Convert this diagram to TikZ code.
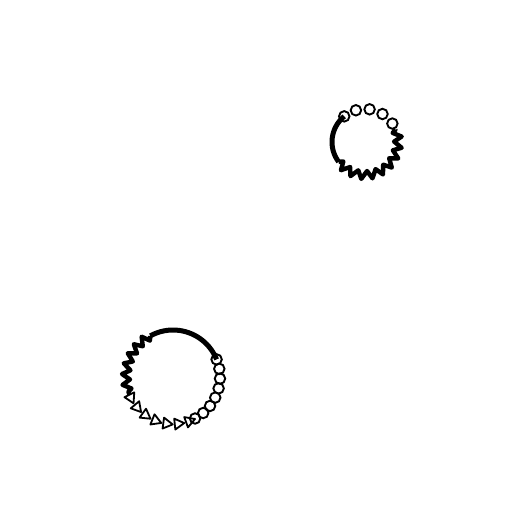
\documentclass[tikz,border=0pt]{standalone}
\usetikzlibrary{decorations.pathmorphing,shapes.geometric}
\begin{document}
\begin{tikzpicture}[x=1pt,y=1pt,
  thickarc/.style={line width=5pt},
  zig/.style={line width=4.4pt, line join=round, decorate, decoration={zigzag, segment length=10pt, amplitude=4pt}},
  ring/.style={draw, circle, line width=1.9pt, minimum size=10.5pt, inner sep=0pt},
  tri/.style={draw, isosceles triangle, isosceles triangle apex angle=60, line width=1.8pt, minimum height=9.5pt, inner sep=0pt, line join=round}]
\useasboundingbox (0,0) rectangle (512,512);
% top-right ring
\coordinate (c1) at (365,370);
\draw[thickarc] ([shift={(129:33)}]c1) arc[start angle=129, end angle=217, radius=33];
\draw[zig] ([shift={(217:33)}]c1) arc[start angle=217, end angle=382, radius=33];
\foreach \a in {34,58,82,106,129}
  \node[ring] at ([shift={(\a:33)}]c1) {};
% bottom-left ring
\coordinate (c2) at (173,135);
\draw[thickarc] ([shift={(22:47)}]c2) arc[start angle=22, end angle=119, radius=47];
\draw[zig] ([shift={(119:47)}]c2) arc[start angle=119, end angle=202, radius=47];
\foreach \a in {206,220,234,248,262,276,290}
  \node[tri, rotate=\a+90] at ([shift={(\a:47)}]c2) {};
\foreach \a in {298,310,322,334,346,358,370,382}
  \node[ring] at ([shift={(\a:47)}]c2) {};
\end{tikzpicture}
\end{document}
